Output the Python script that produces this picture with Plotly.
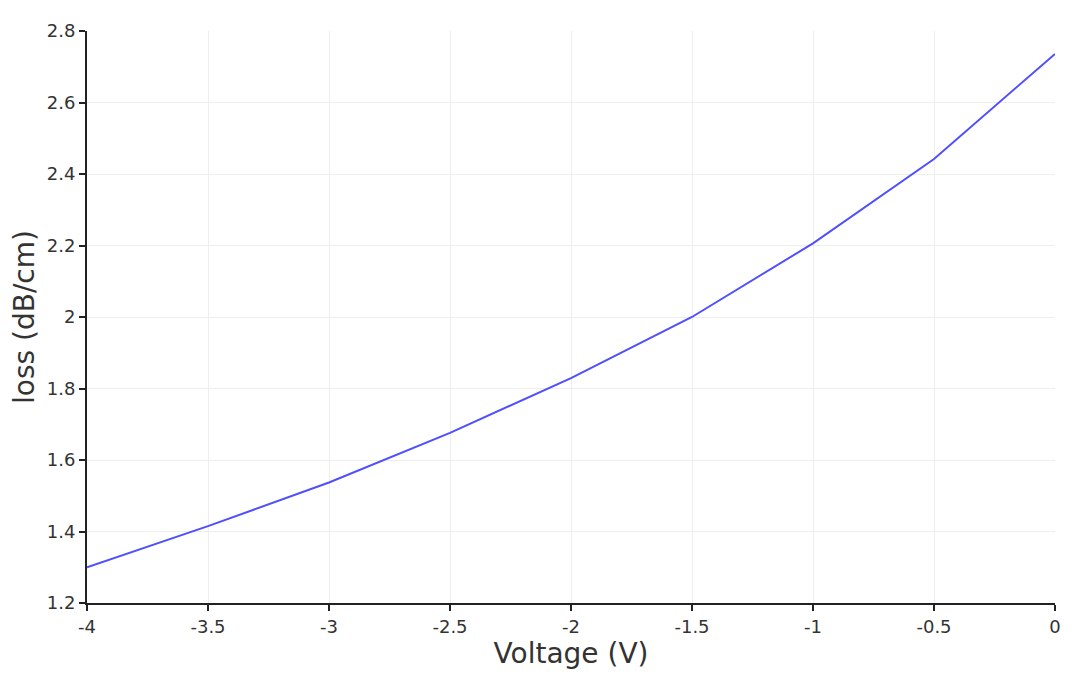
import plotly.graph_objects as go

voltage = [-4, -3.5, -3, -2.5, -2, -1.5, -1, -0.5, 0]
loss = [1.300, 1.415, 1.537, 1.676, 1.829, 2.000, 2.206, 2.442, 2.736]

x_ticks = [-4, -3.5, -3, -2.5, -2, -1.5, -1, -0.5, 0]
y_ticks = [1.2, 1.4, 1.6, 1.8, 2.0, 2.2, 2.4, 2.6, 2.8]

fig = go.Figure()
fig.add_trace(go.Scatter(x=voltage, y=loss, mode="lines",
                         line=dict(color="#4f4fff", width=2), showlegend=False))

font_family = "DejaVu Sans, Verdana, sans-serif"
fig.update_layout(
    width=1080, height=680,
    margin=dict(l=79, r=33, t=23, b=85, autoexpand=False),
    paper_bgcolor="white", plot_bgcolor="white",
    font=dict(family=font_family, color="#333", size=18),
)
fig.update_xaxes(
    range=[-4, 0], tickvals=x_ticks, ticktext=[f"{v:g}" for v in x_ticks],
    showline=True, linecolor="#222", linewidth=2, ticks="outside", ticklen=6,
    tickcolor="#222", tickwidth=1.5, automargin=False,
    showgrid=True, gridcolor="#eeeeee", gridwidth=1, zeroline=False,
    title=dict(text="Voltage (V)", font=dict(size=28), standoff=6),
    tickfont=dict(size=18),
)
fig.update_yaxes(
    range=[1.2, 2.8], tickvals=y_ticks, ticktext=[f"{v:g}" for v in y_ticks],
    showline=True, linecolor="#222", linewidth=2, ticks="outside", ticklen=6,
    tickcolor="#222", tickwidth=1.5, automargin=False,
    showgrid=True, gridcolor="#eeeeee", gridwidth=1, zeroline=False,
    title=dict(text="loss (dB/cm)", font=dict(size=28), standoff=12),
    tickfont=dict(size=18),
)
fig.write_html("out.html")
